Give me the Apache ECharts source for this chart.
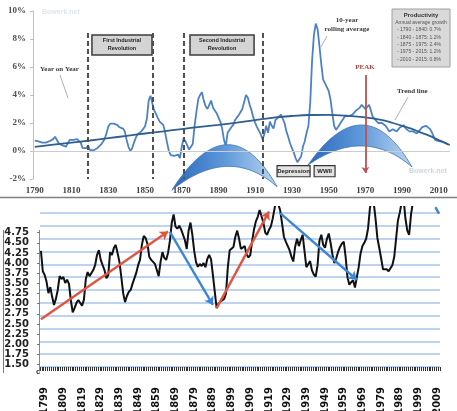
<!DOCTYPE html>
<html><head><meta charset="utf-8">
<script src="https://cdn.jsdelivr.net/npm/echarts@6/dist/echarts.min.js"></script>
<style>html,body{margin:0;padding:0;background:#fff}#c{width:457px;height:411px}</style>
</head><body><div id="c"></div>
<script>
// ================= TOP CHART: productivity growth =================
const rollStartYear = 1790;
const rollingAvg = [
  0.74,0.72,0.68,0.62,0.60,0.60,0.60,0.62,0.70,0.80,
  0.85,1.02,0.90,0.55,0.43,0.40,0.35,0.31,0.20,0.80,
  0.88,0.80,0.75,0.85,0.80,0.60,0.20,0.07,0.20,0.40,
  0.07,0.00,0.05,0.12,0.20,0.30,0.45,0.65,0.85,1.26,
  1.74,1.95,2.05,1.95,1.85,1.85,1.70,1.75,1.60,1.40,
  0.79,0.30,0.00,0.20,0.60,0.95,1.20,1.30,1.40,1.45,
  1.75,2.30,3.60,3.95,3.40,2.90,2.65,2.35,2.10,2.00,
  1.85,1.30,0.60,0.00,-0.30,-0.40,-0.35,-0.30,-0.25,-0.50,
  0.30,0.90,0.70,0.40,0.10,0.20,0.50,1.80,2.80,3.70,
  4.00,4.20,3.60,3.20,3.00,3.30,3.60,3.10,2.90,2.70,
  2.40,2.10,1.60,0.80,0.35,1.30,1.50,1.70,1.85,2.20,
  2.40,2.55,2.50,3.00,3.50,4.00,3.80,3.30,2.90,2.40,
  2.00,1.70,1.80,1.20,0.85,1.20,1.80,1.30,2.10,1.80,
  1.60,2.20,2.30,2.45,2.60,2.50,2.00,1.40,1.00,0.55,
  0.20,-0.10,-0.50,-0.80,-0.85,-0.40,0.30,0.70,1.30,1.80,
  3.50,6.50,8.30,9.10,8.70,7.50,6.20,5.10,4.85,4.85,
  4.30,3.70,2.70,1.80,1.50,1.60,1.90,2.10,2.30,2.50,
  2.60,2.50,2.50,2.60,2.70,2.90,2.90,3.10,3.30,3.40,
  3.00,3.00,3.30,2.90,2.45,2.30,2.20,2.00,1.95,2.00,
  1.90,1.80,1.60,1.40,1.45,1.55,1.50,1.40,1.50,1.70,
  1.75,1.85,1.60,1.50,1.40,1.35,1.40,1.30,1.25,1.40,
  1.55,1.70,1.74,1.80,1.79,1.60,1.40,1.10,0.80,0.67,
  0.70,0.75,0.65,0.60,0.55,0.45
];
const trendYears  = [1790,1800,1810,1820,1830,1840,1850,1860,1870,1880,1890,1900,1910,1920,1930,1940,1950,1960,1970,1980,1985,1990,1995,2000,2005,2010,2016];
const trendValues = [0.30,0.45,0.60,0.75,0.92,1.08,1.25,1.40,1.57,1.72,1.86,2.02,2.20,2.38,2.50,2.57,2.58,2.52,2.40,2.18,2.00,1.80,1.60,1.33,1.08,0.78,0.43];
const topXTicks = [1790,1810,1830,1850,1870,1890,1910,1930,1950,1970,1990,2010];
const eraLineYears = [1819, 1854, 1871, 1914];
const eraBoxes = [
  ['First Industrial\nRevolution', 1821.1, 1853.8],
  ['Second Industrial\nRevolution', 1874.5, 1909.4]
];
const eventBoxes = [
  ['Depression', 1921.9, 1939.9],
  ['WWII', 1942.1, 1953.5]
];
const peakYear = 1970;
// [leftYear, leftPct, topYear, outerTopPct, innerTopPct, rightYear, rightPct]
const crescents = [
  [1864.6, -2.8, 1894.5, 0.45, -1.1, 1921.9, -2.55],
  [1938.8, -1.0, 1968.2, 1.86, 0.36, 1995.4, -1.14]
];
const productivityLines = [
  '- 1790 - 1840: 0.7%',
  '- 1840 - 1875: 1.2%',
  '- 1875 - 1975: 2.4%',
  '- 1975 - 2015: 1.2%',
  '- 2010 - 2015: 0.8%'
];

// ================= BOTTOM CHART =================
const ratioStartYear = 1797;
const ratioValues = [
  4.30,3.80,3.71,3.54,3.26,3.41,3.17,2.97,3.12,3.34,
  3.68,3.61,3.66,3.51,3.59,3.49,3.09,2.79,2.89,3.02,
  3.09,3.09,2.95,3.10,3.60,3.78,3.68,3.71,3.83,3.95,
  4.20,4.32,4.08,3.95,3.83,3.63,3.70,4.27,4.20,4.37,
  4.45,4.25,4.03,3.66,3.26,3.04,3.19,3.29,3.34,3.49,
  3.49,3.76,3.95,4.08,4.45,4.67,4.62,4.47,4.15,4.08,
  4.03,3.98,3.83,3.68,4.03,4.27,4.13,4.08,4.25,4.55,
  5.00,5.20,4.90,4.85,4.92,4.83,4.86,4.57,4.35,4.80,
  5.00,4.70,4.30,4.02,3.91,3.98,3.93,4.00,3.90,4.10,
  4.20,4.10,3.71,3.30,2.89,3.00,3.05,3.05,3.12,3.25,
  3.91,4.32,4.32,4.40,4.65,4.80,4.60,4.35,4.32,4.42,
  4.22,4.14,4.20,4.55,4.83,5.03,5.14,5.31,5.30,5.00,
  4.75,4.70,4.82,4.90,5.10,5.35,5.60,5.60,5.30,4.98,
  4.65,4.53,4.55,4.32,4.16,4.04,4.40,4.60,4.42,4.57,
  4.70,4.30,3.90,3.90,4.05,3.82,3.72,3.67,3.95,4.55,
  4.70,4.45,4.38,4.60,4.73,4.49,4.20,4.00,4.12,4.28,
  4.40,4.48,4.53,4.16,3.65,3.47,3.53,3.58,3.40,3.38,
  3.90,4.24,4.42,4.50,4.60,4.85,5.35,5.60,5.50,5.10,
  4.62,4.38,4.12,3.85,3.85,3.85,3.80,3.76,3.95,4.15,
  4.60,5.05,5.25,5.50,5.60,5.10,4.80,4.70,5.20,5.50,
  5.70,5.80,5.90,6.00,6.00,5.90,5.80,5.70,5.80,5.90,
  6.00,6.00,5.90,5.80
];
const ratioTicks = [1.50,1.75,2.00,2.25,2.50,2.75,3.00,3.25,3.50,3.75,4.00,4.25,4.50,4.75];
// [fromYear, fromValue, toYear, toValue, hasHead]
const upArrows = [
  [1797, 2.62, 1865, 4.78, true],
  [1891, 2.89, 1919, 5.27, true],
  [1968, 3.59, 1999, 5.39, false]
];
const downArrows = [
  [1866, 4.77, 1889, 2.97, true],
  [1925, 5.23, 1966, 3.59, true],
  [2008, 5.38, 2010, 5.22, false]
];

// ------------------------------------------------------------
const ratioYears = ratioValues.map((_, i) => String(ratioStartYear + i));
const rollingData = rollingAvg.map((v, i) => [rollStartYear + i, v]);
const trendData = trendYears.map((y, i) => [y, trendValues[i]]);

const serif = "'Liberation Serif','DejaVu Serif',serif";
const sans = "'Liberation Sans','DejaVu Sans',sans-serif";

function arrowItems(list, color) {
  return list.map(a => [
    { coord: [String(a[0]), a[1]], symbol: 'none', lineStyle: { color: color, width: 2.4, type: 'solid' } },
    { coord: [String(a[2]), a[3]], symbol: a[4] ? 'arrow' : 'none' }
  ]);
}

function renderCrescent(params, api) {
  const L = api.coord([api.value(0), api.value(1)]);
  const T = api.coord([api.value(2), api.value(3)]);
  const I = api.coord([api.value(2), api.value(4)]);
  const R = api.coord([api.value(5), api.value(6)]);
  const mx = (L[0] + R[0]) / 2, my = (L[1] + R[1]) / 2;
  const c1 = [2 * T[0] - mx, 2 * T[1] - my];
  const c2 = [2 * I[0] - mx, 2 * I[1] - my];
  const pts = [];
  const N = 48;
  for (let k = 0; k <= N; k++) {
    const t = k / N, u = 1 - t;
    pts.push([u*u*L[0] + 2*u*t*c1[0] + t*t*R[0], u*u*L[1] + 2*u*t*c1[1] + t*t*R[1]]);
  }
  for (let k = N; k >= 0; k--) {
    const t = k / N, u = 1 - t;
    pts.push([u*u*L[0] + 2*u*t*c2[0] + t*t*R[0], u*u*L[1] + 2*u*t*c2[1] + t*t*R[1]]);
  }
  return {
    type: 'polygon',
    shape: { points: pts },
    style: {
      fill: new echarts.graphic.LinearGradient(0, 0, 1, 0, [
        { offset: 0, color: '#2a68bd' },
        { offset: 0.5, color: '#5d98d9' },
        { offset: 1, color: '#bcd6f1' }
      ]),
      stroke: '#3d74b8',
      lineWidth: 0.8
    }
  };
}

const chart = echarts.init(document.getElementById('c'), null, { renderer: 'canvas' });

const graphicEls = [
  { type: 'line', shape: { x1: 0, y1: 197.5, x2: 457, y2: 197.5 }, style: { stroke: '#808080', lineWidth: 1.5 } },
  { type: 'line', shape: { x1: 3.5, y1: 230, x2: 3.5, y2: 373 }, style: { stroke: '#777', lineWidth: 1 } },
  { type: 'line', shape: { x1: 39.5, y1: 230, x2: 39.5, y2: 370 }, style: { stroke: '#888', lineWidth: 1 } },
  { type: 'text', x: 36, y: 368, style: { text: 'c', font: 'bold 8px ' + sans, fill: '#333' } },
  // watermarks
  { type: 'text', x: 42, y: 9, style: { text: 'Bowerk.net', font: 'bold 7px ' + sans, fill: '#dfe5ec' } },
  { type: 'text', x: 409, y: 168, style: { text: 'Bowerk.net', font: 'bold 7px ' + sans, fill: '#cdd6df' } },
  // annotations
  { type: 'text', x: 40, y: 66, style: { text: 'Year on Year', font: 'bold 7px ' + serif, fill: '#3a3a3a' } },
  { type: 'line', shape: { x1: 60, y1: 75, x2: 68, y2: 98 }, style: { stroke: '#9a9a9a', lineWidth: 0.8 } },
  { type: 'text', x: 347, y: 17, style: { text: '10-year', font: 'bold 7px ' + serif, fill: '#3a3a3a', align: 'center', textAlign: 'center' } },
  { type: 'text', x: 347, y: 26, style: { text: 'rolling average', font: 'bold 7px ' + serif, fill: '#3a3a3a', align: 'center', textAlign: 'center' } },
  { type: 'line', shape: { x1: 327, y1: 36, x2: 321, y2: 47 }, style: { stroke: '#9a9a9a', lineWidth: 0.8 } },
  { type: 'text', x: 397, y: 88, style: { text: 'Trend line', font: 'bold 7px ' + serif, fill: '#3a3a3a' } },
  { type: 'line', shape: { x1: 408, y1: 97, x2: 395, y2: 120 }, style: { stroke: '#9a9a9a', lineWidth: 0.8 } },
  { type: 'text', x: 365, y: 64, style: { text: 'PEAK', font: 'bold 7px ' + serif, fill: '#b5403c', align: 'center', textAlign: 'center' } },
  // productivity box
  { type: 'rect', shape: { x: 392, y: 9, width: 58, height: 58 }, style: { fill: '#d9d9d9', stroke: '#a0a0a0', lineWidth: 1 } },
  { type: 'text', x: 421, y: 12, style: { text: 'Productivity', font: 'bold 6px ' + sans, fill: '#333', align: 'center', textAlign: 'center' } },
  { type: 'text', x: 421, y: 20.5, style: { text: 'Annual average growth', font: '5px ' + sans, fill: '#555', align: 'center', textAlign: 'center' } }
];
productivityLines.forEach((t, i) => {
  graphicEls.push({ type: 'text', x: 397, y: 27.5 + i * 7.3, style: { text: t, font: '5px ' + sans, fill: '#555' } });
});

const option = {
  animation: false,
  grid: [
    { left: 33, right: 7, top: 11, bottom: 232, outerBoundsMode: 'none', containLabel: false },
    { left: 40, right: 17, top: 207, bottom: 44, outerBoundsMode: 'none', containLabel: false }
  ],
  xAxis: [
    {
      type: 'value', gridIndex: 0, min: 1789, max: 2016.1,
      splitLine: { show: false }, axisLine: { show: false }, axisTick: { show: false },
      axisLabel: { customValues: topXTicks, formatter: v => String(v), margin: 7, fontFamily: serif, fontWeight: 'bold', fontSize: 9, color: '#404040' }
    },
    {
      type: 'category', gridIndex: 1, data: ratioYears, offset: 14, boundaryGap: true,
      axisLine: { show: false },
      axisTick: { show: true, interval: 0, length: 4, lineStyle: { color: '#333', width: 1 } },
      axisLabel: {
        interval: (i, v) => (Number(v) - 1799) % 10 === 0,
        rotate: 90, margin: 6, fontFamily: 'DejaVu Sans', fontWeight: 'bold', fontSize: 10, color: '#111'
      }
    }
  ],
  yAxis: [
    {
      type: 'value', gridIndex: 0, min: -2, max: 10, interval: 2,
      splitLine: { show: false },
      axisLine: { show: true, lineStyle: { color: '#bfbfbf' } },
      axisTick: { show: true, length: 3, lineStyle: { color: '#bfbfbf' } },
      axisLabel: { formatter: '{value}%', margin: 7, fontFamily: serif, fontWeight: 'bold', fontSize: 9, color: '#505050' }
    },
    {
      type: 'value', gridIndex: 1, min: 1.441, max: 5.383,
      splitLine: { show: false }, axisLine: { show: false },
      axisTick: { show: true, customValues: ratioTicks, length: 3, lineStyle: { color: '#777' } },
      axisLabel: { customValues: ratioTicks, showMinLabel: true, showMaxLabel: true, hideOverlap: false, formatter: v => Number(v).toFixed(2), margin: 11, fontFamily: 'DejaVu Sans', fontWeight: 'bold', fontSize: 10, color: '#222' }
    },
    {
      type: 'value', gridIndex: 1, min: 0, max: 12.47, interval: 1, position: 'right',
      axisLine: { show: false }, axisTick: { show: false }, axisLabel: { show: false },
      splitLine: { show: true, showMaxLine: false, showMinLine: true, lineStyle: { color: '#a9c4eb', width: 1.6 } }
    }
  ],
  series: [
    {
      name: 'eras', type: 'line', xAxisIndex: 0, yAxisIndex: 0, data: [], z: 1, silent: true,
      markLine: {
        silent: true, symbol: ['none', 'none'], label: { show: false },
        lineStyle: { type: [5, 3], color: '#505050', width: 2 },
        data: eraLineYears.map(y => [{ coord: [y, 8.43] }, { coord: [y, -2] }])
          .concat([[{ coord: [1789, 0], lineStyle: { type: 'solid', color: '#cccccc', width: 1 } }, { coord: [2016.1, 0] }]])
      },
      markArea: {
        silent: true,
        itemStyle: { color: '#d4d4d4', borderColor: '#3c3c3c', borderWidth: 1.5 },
        label: { show: true, position: 'inside', fontFamily: sans, fontWeight: 'bold', fontSize: 5.5, lineHeight: 8, color: '#222' },
        data: eraBoxes.map(b => [{ name: b[0], coord: [b[1], 8.29] }, { coord: [b[2], 6.86] }])
      }
    },
    {
      name: '10-year rolling average', type: 'line', xAxisIndex: 0, yAxisIndex: 0, z: 2,
      data: rollingData, showSymbol: false, symbol: 'none',
      lineStyle: { color: '#4d82c4', width: 1.8 }
    },
    {
      name: 'Trend line', type: 'line', xAxisIndex: 0, yAxisIndex: 0, z: 2,
      data: trendData, smooth: 0.4, showSymbol: false, symbol: 'none',
      lineStyle: { color: '#2f5f8f', width: 1.8 }
    },
    {
      name: 'waves', type: 'custom', xAxisIndex: 0, yAxisIndex: 0, z: 3,
      coordinateSystem: 'cartesian2d', data: crescents, renderItem: renderCrescent, silent: true
    },
    {
      name: 'events', type: 'line', xAxisIndex: 0, yAxisIndex: 0, data: [], z: 5, silent: true,
      markLine: {
        silent: true, symbol: ['none', 'arrow'], symbolSize: 6, label: { show: false },
        lineStyle: { type: 'solid', color: '#c0504d', width: 1.8 },
        data: [[{ coord: [peakYear, 5.43] }, { coord: [peakYear, -1.57] }]]
      },
      markArea: {
        silent: true,
        itemStyle: { color: '#e3e3e3', borderColor: '#333', borderWidth: 1.2 },
        label: { show: true, position: 'inside', fontFamily: sans, fontWeight: 'bold', fontSize: 6, color: '#222' },
        data: eventBoxes.map(b => [{ name: b[0], coord: [b[1], -1.05] }, { coord: [b[2], -1.84] }])
      }
    },
    {
      name: 'ratio', type: 'line', xAxisIndex: 1, yAxisIndex: 1, z: 2,
      data: ratioValues, showSymbol: false, symbol: 'none', clip: true,
      lineStyle: { color: '#111', width: 2 },
      markLine: {
        silent: true, symbolSize: 8, label: { show: false },
        data: arrowItems(upArrows, '#e0553f').concat(arrowItems(downArrows, '#3d85d6'))
      }
    }
  ],
  graphic: graphicEls
};
chart.setOption(option);
</script>
</body></html>
